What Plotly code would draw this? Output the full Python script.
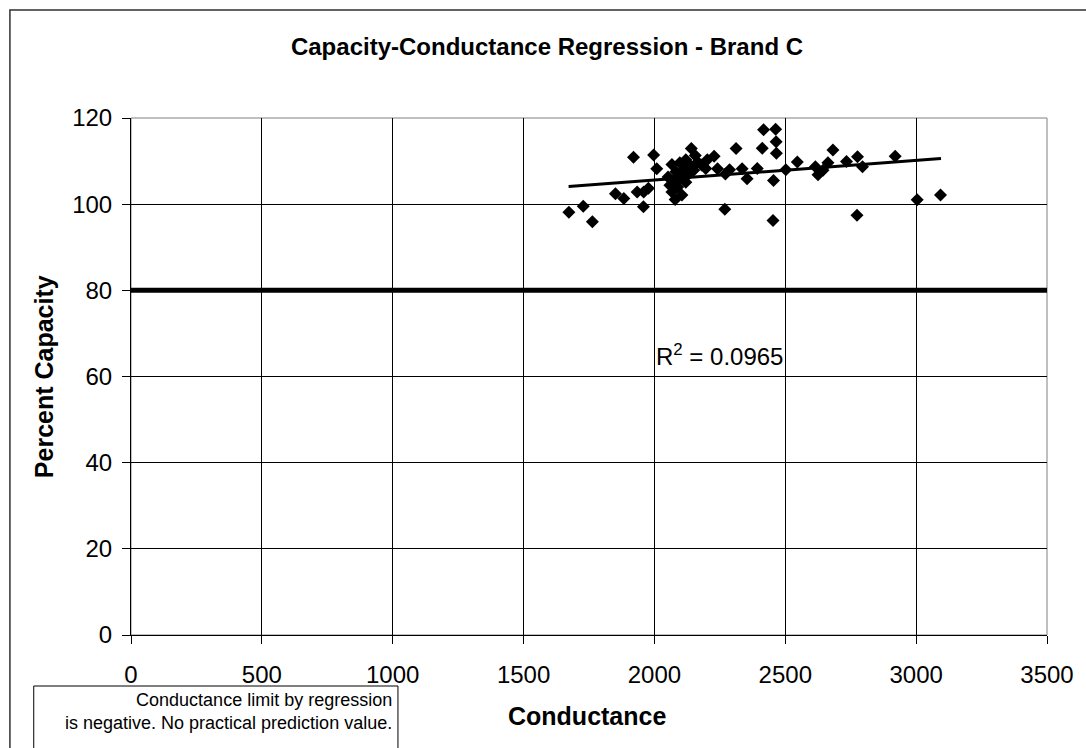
import plotly.graph_objects as go

# Data
conductance = [1673, 1728, 1763, 1851, 1883, 1920, 1934, 1959, 1958, 1977,
               1997, 2009, 2067, 2079, 2141, 2156, 2120, 2202, 2228, 2196,
               2241, 2271, 2287, 2312, 2269, 2335, 2354, 2393, 2417, 2463,
               2465, 2412, 2466, 2455, 2502, 2546, 2615, 2625, 2644, 2663,
               2682, 2734, 2776, 2795, 2920, 2453, 2774, 3004, 3093,
               2052, 2059, 2067, 2074, 2082, 2089, 2097, 2105, 2112, 2120,
               2127, 2135, 2150, 2165, 2180, 2097]
capacity = [98.1, 99.5, 95.9, 102.4, 101.3, 110.9, 102.8, 102.8, 99.4, 103.7,
            111.4, 108.2, 109.2, 101.1, 112.9, 111.3, 110.3, 110.3, 111.1, 108.3,
            108.2, 107.0, 108.0, 112.9, 98.8, 108.2, 105.9, 108.3, 117.3, 117.4,
            114.5, 113.0, 111.8, 105.5, 108.0, 109.8, 108.7, 106.8, 107.9, 109.6,
            112.6, 109.9, 111.0, 108.7, 111.1, 96.2, 97.4, 101.0, 102.1,
            106.3, 104.4, 102.8, 105.6, 107.5, 104.0, 106.1, 102.1, 107.9, 105.1,
            106.8, 109.1, 107.9, 109.8, 109.1, 109.6]

trend_x = [1672, 3095]
trend_y = [104.1, 110.6]

limit_capacity = 80
x_ticks = [0, 500, 1000, 1500, 2000, 2500, 3000, 3500]
y_ticks = [0, 20, 40, 60, 80, 100, 120]

FONT = "Liberation Sans, Arial, sans-serif"

fig = go.Figure()

fig.add_trace(go.Scatter(
    x=[0, 3500], y=[limit_capacity, limit_capacity], mode="lines",
    line=dict(color="black", width=5), showlegend=False, hoverinfo="skip"))

fig.add_trace(go.Scatter(
    x=conductance, y=capacity, mode="markers",
    marker=dict(symbol="diamond", size=10, color="black",
                line=dict(width=0)),
    showlegend=False))

fig.add_trace(go.Scatter(
    x=trend_x, y=trend_y, mode="lines",
    line=dict(color="black", width=3), showlegend=False))

fig.update_layout(
    width=1086, height=748,
    margin=dict(l=131, r=32, t=118, b=113),
    paper_bgcolor="white", plot_bgcolor="white",
    font=dict(family=FONT, color="black", size=24),
    title=dict(text="<b>Capacity-Conductance Regression - Brand C</b>",
               x=547 / 1086, xanchor="center", y=1 - 47 / 748,
               yanchor="middle", font=dict(size=24, family=FONT, color="black")),
    xaxis=dict(range=[0, 3500], tickvals=x_ticks, showgrid=True,
               gridcolor="black", gridwidth=1, showline=True, linecolor="black",
               linewidth=1, ticks="outside", ticklen=8, tickcolor="black",
               zeroline=False, ticklabelstandoff=10, tickfont=dict(size=24)),
    yaxis=dict(range=[0, 120], tickvals=y_ticks, showgrid=True,
               gridcolor="black", gridwidth=1, showline=True, linecolor="black",
               linewidth=1, ticks="outside", ticklen=8, tickcolor="black",
               zeroline=False, ticklabelstandoff=5, tickfont=dict(size=24)),
)

# plot area border (gray)
fig.add_shape(type="rect", xref="paper", yref="paper", x0=0, x1=1, y0=0, y1=1,
              line=dict(color="#808080", width=1), layer="below")

pw, ph = 923.0, 517.0
def px2x(px):
    return (px - 131) / pw
def py2y(py):
    return (635 - py) / ph

# outer chart border
fig.add_shape(type="rect", xref="paper", yref="paper",
              x0=px2x(9), x1=px2x(1100), y0=py2y(760), y1=py2y(10),
              line=dict(color="#303030", width=1.5))

# axis titles
fig.add_annotation(xref="paper", yref="paper", x=px2x(43), y=py2y(376.5),
                   xanchor="center", yanchor="middle", textangle=-90,
                   showarrow=False, text="<b>Percent Capacity</b>",
                   font=dict(size=25, family=FONT, color="black"))
fig.add_annotation(xref="paper", yref="paper", x=px2x(590), y=py2y(716),
                   xanchor="center", yanchor="middle",
                   showarrow=False, text="<b>Conductance</b>",
                   font=dict(size=25, family=FONT, color="black"))

# note box
fig.add_shape(type="rect", xref="paper", yref="paper",
              x0=px2x(33), x1=px2x(400), y0=py2y(760), y1=py2y(686),
              line=dict(color="black", width=1), fillcolor="white")
fig.add_annotation(xref="paper", yref="paper", x=px2x(396), y=py2y(688),
                   xanchor="right", yanchor="top", align="right",
                   showarrow=False,
                   text="Conductance limit by regression<br>is negative. No practical prediction value.",
                   font=dict(size=18, family=FONT, color="black"))

fig.add_annotation(x=2000, y=65, xanchor="left", yanchor="middle",
                   showarrow=False, text="R<sup>2</sup> = 0.0965",
                   font=dict(size=24, family=FONT, color="black"))

fig.write_html("out.html", config={"displayModeBar": False},
               post_script="document.body.style.margin='0px';")
